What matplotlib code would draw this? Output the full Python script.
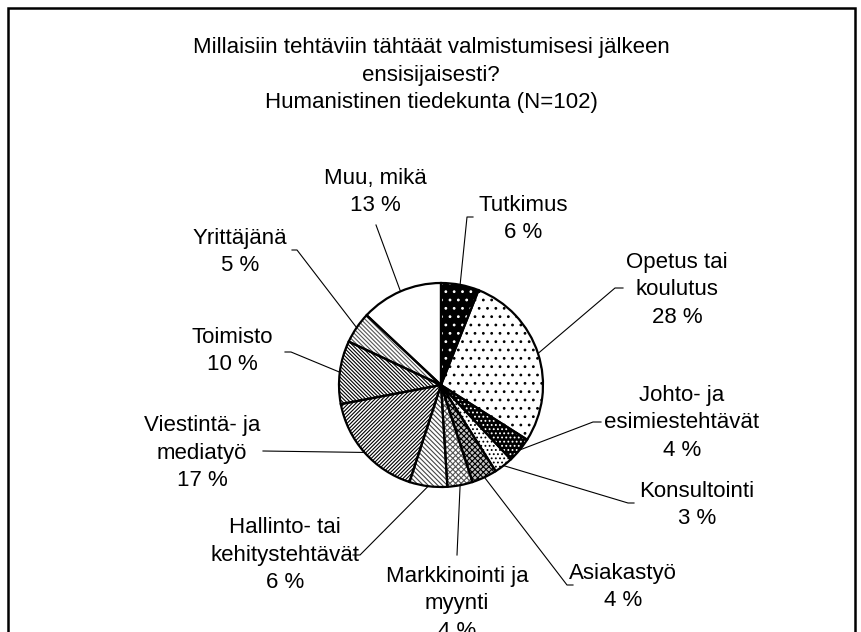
import numpy as np
import matplotlib
matplotlib.use('Agg')
import matplotlib.pyplot as plt
from matplotlib.patches import Rectangle

plt.rcParams['font.family'] = ['Liberation Sans', 'DejaVu Sans']
plt.rcParams['hatch.linewidth'] = 0.8

W, H = 862, 632

title = 'Millaisiin tehtäviin tähtäät valmistumisesi jälkeen\nensisijaisesti?\nHumanistinen tiedekunta (N=102)'

# clockwise from 12 o'clock
categories = ['Tutkimus', 'Opetus tai\nkoulutus', 'Johto- ja\nesimiestehtävät', 'Konsultointi',
              'Asiakastyö', 'Markkinointi ja\nmyynti', 'Hallinto- tai\nkehitystehtävät',
              'Viestintä- ja\nmediatyö', 'Toimisto', 'Yrittäjänä', 'Muu, mikä']
percent = [6, 28, 4, 3, 4, 4, 6, 17, 10, 5, 13]

bs = '\\'
# fill style per slice: (face, hatch, hatch colour)
styles = [('black', '..', 'white'),
          ('white', '..', 'black'),
          ('black', '....', 'white'),
          ('white', '....', 'black'),
          ('#c4c4c4', 'xxxxxx', 'black'),
          ('white', 'xxxxxx', '#555555'),
          ('white', bs * 7, '#444444'),
          ('white', '/' * 9, 'black'),
          ('white', bs * 9, 'black'),
          ('white', bs * 8, '#555555'),
          ('white', '', 'white')]

# label layout in pixels: text centre, end of tick next to text, elbow
label_pos = [(523, 219), (677, 290), (682, 423), (697, 505), (623, 587), (457, 604),
             (285, 555), (202, 453), (232, 351), (240, 252), (375, 192)]
tick_end = [(473, 217), (623, 288), (601, 422), (634, 503), (573, 585), (457, 555),
            (353, 555), (263, 451), (285, 352), (292, 250), (376, 225)]
elbow = [(467, 217), (615, 288), (593, 422), (628, 503), (567, 585), (457, 555),
         (360, 555), (263, 451), (291, 352), (297, 250), (376, 225)]

cx, cy, R = 441, 385, 102


def fy(y):
    return H - y


fig = plt.figure(figsize=(W / 100, H / 100), dpi=100)
ax = fig.add_axes([0, 0, 1, 1])

wedges, _ = ax.pie(percent, center=(cx, fy(cy)), radius=R, startangle=90,
                   counterclock=False, wedgeprops=dict(linewidth=0))
for w, (face, hatch, hc) in zip(wedges, styles):
    w.set_facecolor(face)
    w.set_edgecolor(hc)
    w.set_hatch(hatch)
    w.set_linewidth(0)

ax.pie(percent, center=(cx, fy(cy)), radius=R, startangle=90, counterclock=False,
       wedgeprops=dict(fill=False, edgecolor='black', linewidth=1.6))

for w, name, p, tp, te, el in zip(wedges, categories, percent, label_pos, tick_end, elbow):
    mid = np.deg2rad((w.theta1 + w.theta2) / 2)
    ex = cx + R * np.cos(mid)
    ey = fy(cy) + R * np.sin(mid)
    ax.plot([ex, el[0], te[0]], [ey, fy(el[1]), fy(te[1])], color='black', lw=0.8)
    ax.text(tp[0], fy(tp[1]), f'{name}\n{p} %', ha='center', va='center',
            fontsize=16, linespacing=1.4)

ax.text(431, fy(75), title, ha='center', va='center', fontsize=16, linespacing=1.4)

ax.add_patch(Rectangle((8, -20), 847, fy(8) + 20, fill=False, edgecolor='black', lw=1.8))

ax.set_xlim(0, W)
ax.set_ylim(0, H)
ax.axis('off')

fig.savefig('out.png', dpi=100)
